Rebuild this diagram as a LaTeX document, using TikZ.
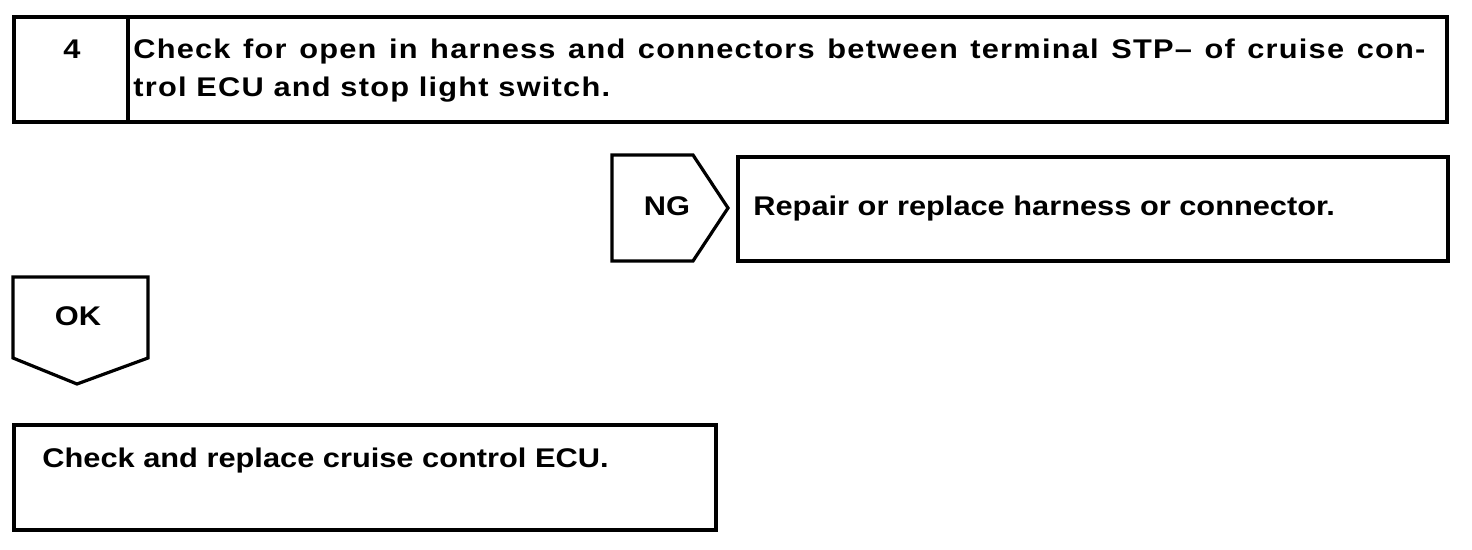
\documentclass[tikz,border=0pt]{standalone}
\usepackage{fontspec}
\setmainfont{Liberation Sans}[FakeStretch=1.14]
\newfontfamily\stepfont{Liberation Sans}[FakeStretch=1.14, LetterSpace=4.5]
\begin{document}
\begin{tikzpicture}[x=0.5pt,y=-0.5pt]
    \tikzstyle{frame}=[draw, line width=1.6pt, line join=miter]
    \tikzstyle{label}=[inner sep=0pt, font=\fontsize{13.5}{19}\selectfont\bfseries]

    \useasboundingbox (0,0) rectangle (1472,550);

    % step 4
    \draw[frame] (14,17) rectangle (1447,122);
    \draw[frame] (128,17) -- (128,122);
    \node[label, anchor=base] (num) at (72,59) {4};
    \node[label, font=\fontsize{13.5}{19}\stepfont\bfseries, anchor=north west, align=justify, text width=646pt] (check) at (133,39)
        {Check for open in harness and connectors between terminal STP– of cruise con-\linebreak trol ECU and stop light switch.};

    % NG branch
    \draw[frame] (612,155) -- (693,155) -- (728,208) -- (693,261) -- (612,261) -- cycle;
    \node[label, anchor=base] (ng) at (667,216) {NG};
    \draw[frame] (738,157) rectangle (1448,261);
    \node[label, anchor=base west] (repair) at (753,216) {Repair or replace harness or connector.};

    % OK branch
    \draw[frame] (13,277) -- (148,277) -- (148,358) -- (77,384) -- (13,358) -- cycle;
    \node[label, anchor=base] (ok) at (78,326) {OK};
    \draw[frame] (14,425) rectangle (716,530);
    \node[label, anchor=base west] (ecu) at (42,467) {Check and replace cruise control ECU.};
\end{tikzpicture}
\end{document}
